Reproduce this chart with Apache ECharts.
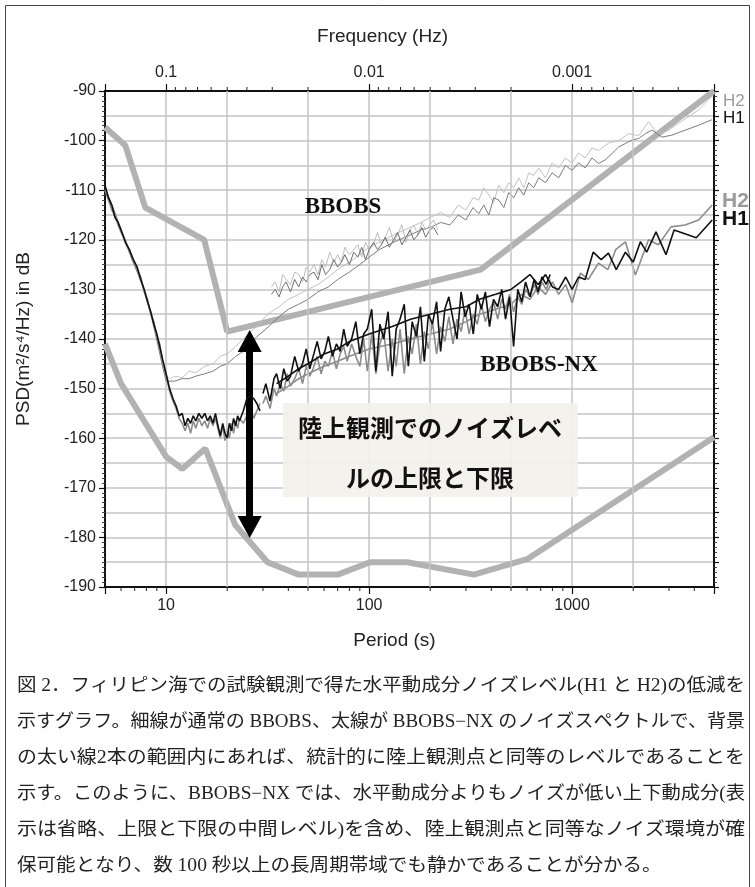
<!DOCTYPE html>
<html>
<head>
<meta charset="utf-8">
<script src="https://cdn.jsdelivr.net/npm/echarts@6/dist/echarts.min.js"></script>
<style>
  html, body { margin: 0; padding: 0; background: #fff; }
  #main { width: 755px; height: 887px; }
</style>
</head>
<body>
<div id="main"></div>
<script>
// period (s) / PSD (dB)

// land noise models (upper / lower limit)
const nhnm = [[5, -97.3], [6.3, -101], [7.9, -113.5], [15.4, -120], [20, -138.5], [354.8, -126], [5000, -90]];
const nlnm = [[5, -141], [6, -149], [10, -163.7], [12, -166.2], [15.6, -162.1], [21.9, -177.5], [31.6, -185],
  [45, -187.5], [70, -187.5], [101, -185], [154, -185], [328, -187.5], [600, -184.4], [5000, -159.8]];

// BBOBS (thin lines), long window
const bbH2Long = [[5, -110], [5.3, -112.5], [5.6, -115], [6, -118.5], [6.4, -121.5], [6.8, -123.5], [7.2, -126], [7.6, -128.5],
  [8, -131.5], [8.4, -134.5], [8.8, -138], [9.2, -141.5], [9.6, -145], [10, -147.5], [10.5, -148], [11, -147.5], [12, -147.8],
  [13, -146.5], [14, -146.8], [15.5, -145.5], [17, -145], [18.5, -143.5], [20, -143], [22, -141.5], [24, -140], [26, -138.5],
  [28, -137.5], [30, -136], [33, -134.5], [36, -133.5], [40, -132], [45, -131], [50, -130], [56, -129], [63, -127.5], [70, -126],
  [80, -124.5], [90, -123], [100, -121.5], [112, -120.5], [125, -119.5], [140, -118.5], [160, -117.5], [180, -116.5], [200, -115.5],
  [225, -114.5], [250, -115.5], [275, -113], [300, -114], [325, -111.5], [347, -112], [367, -109.5], [389, -111], [411, -112.5],
  [435, -109], [461, -110.5], [487, -108.5], [516, -109.5], [546, -107.5], [578, -109.5], [611, -106.5], [647, -107], [685, -105.5],
  [739, -107.5], [797, -104.5], [859, -105.5], [926, -103.5], [1000, -104.5], [1077, -102.5], [1161, -103.5], [1252, -101.5],
  [1350, -102], [1512, -100.5], [1695, -100], [1898, -98.6], [2126, -99], [2382, -96.2], [2667, -98.9], [2985, -97.9],
  [3343, -96.5], [3745, -95.2], [4197, -93.8], [4702, -91.8], [4950, -90.8]];
const bbH1Long = [[5, -109.5], [5.3, -112], [5.6, -114.5], [6, -118], [6.4, -121], [6.8, -124], [7.2, -126.5], [7.6, -129],
  [8, -132], [8.4, -135], [8.8, -138.5], [9.2, -142], [9.6, -145.5], [10, -148.5], [11, -148.5], [12, -148], [13, -148],
  [14, -147.5], [15.5, -147], [17, -146.5], [18.5, -145.5], [20, -145], [22, -143.5], [24, -142.5], [26, -141], [28, -139.5],
  [30, -138.5], [33, -137], [36, -135.5], [40, -134], [45, -133], [50, -132], [56, -130.5], [63, -129.5], [70, -128], [80, -126.5],
  [90, -125], [100, -123.5], [112, -122], [125, -121], [140, -120], [160, -119], [180, -118], [200, -117.5], [225, -116.5],
  [250, -117], [275, -115], [300, -116], [325, -113.5], [347, -114.7], [367, -113], [389, -115], [411, -111.5], [435, -112],
  [461, -113.5], [487, -110.5], [516, -111.5], [546, -109.5], [578, -111], [611, -108.5], [647, -109.5], [685, -107.5],
  [739, -108.5], [797, -106.5], [859, -107.5], [926, -105], [1000, -106], [1077, -104.5], [1161, -105.5], [1252, -103.5],
  [1350, -104.6], [1456, -103.9], [1573, -102.6], [1695, -101.3], [1828, -100.6], [1971, -99.9], [2126, -99.6], [2294, -98.6],
  [2474, -97.9], [2770, -99.3], [3100, -98.9], [3600, -97.9], [4197, -96.9], [4885, -95.8]];

// BBOBS, short window (noisy band)
const bbShortP = [33, 34.5, 36, 37.5, 39, 41, 43, 45, 47, 49, 51, 53.5, 56, 58.5, 61, 64, 67, 70, 73, 76, 80, 84, 88, 92, 96,
  100, 105, 110, 115, 120, 126, 132, 138, 145, 152, 159, 166, 174, 182, 190, 199, 208, 218];
const bbH2Short = [-129.5, -128.5, -130.5, -127, -128, -129, -126.5, -127, -128.5, -125.5, -126.5, -125, -127, -124, -125.5,
  -122.5, -124.5, -123, -124.5, -121.5, -123, -122, -121, -123.5, -120.5, -122, -121, -118.5, -121, -119.5, -117.5, -120.5,
  -119, -117, -120.5, -118, -117, -119, -116.5, -118, -117, -116, -118];
const bbH1Short = [-131, -130, -131.5, -129.5, -128.5, -130.5, -128, -129.5, -127.5, -128.5, -127, -126.5, -128, -125, -127,
  -126, -124, -125.5, -124.5, -123, -125, -122.5, -123.5, -121.5, -124, -122, -120.5, -122, -121, -119.5, -121.5, -120, -118.5,
  -121, -119.5, -118, -120, -119, -117.5, -119.5, -118, -117.5, -119];

// BBOBS-NX (thick lines), short periods
const nxH1Low = [[5, -109], [5.2, -111.5], [5.4, -113], [5.6, -115.5], [5.8, -116.5], [6, -118], [6.3, -120.5], [6.6, -122],
  [6.9, -124], [7.2, -125.5], [7.5, -128], [7.8, -130], [8.1, -132.5], [8.4, -134.5], [8.7, -137], [9, -139], [9.3, -141.5],
  [9.6, -144], [10, -147], [10.4, -150], [10.8, -152], [11.2, -153.5], [11.6, -155.5], [12, -155], [12.4, -157.5], [12.8, -156],
  [13.2, -157], [13.6, -155.5], [14, -156.5], [14.5, -155], [15, -156], [15.5, -155], [16, -156.5], [16.5, -155.5], [17, -157],
  [17.5, -155], [18, -157.5], [18.5, -159.5], [19, -157], [19.5, -159], [20, -160], [20.5, -157], [21, -158.5], [21.5, -156],
  [22, -157.5], [22.5, -155.5], [23, -156.5], [24, -154.5], [25, -152], [26, -151.5], [27, -152], [28, -153], [29, -154.5]];
const nxH2Low = [[5, -110], [5.2, -112], [5.4, -114], [5.6, -115], [5.8, -117], [6, -118.5], [6.3, -120], [6.6, -122.5],
  [6.9, -124.5], [7.2, -126], [7.5, -127.5], [7.8, -130.5], [8.1, -132], [8.4, -135], [8.7, -136.5], [9, -139.5], [9.3, -141],
  [9.6, -144.5], [10, -147.5], [10.4, -150.5], [10.8, -152.5], [11.2, -154], [11.6, -156], [12, -157], [12.4, -158.5],
  [12.8, -157], [13.2, -159], [13.6, -156.5], [14, -158], [14.5, -156], [15, -157.5], [15.5, -156.5], [16, -158], [16.5, -156],
  [17, -157.5], [17.5, -156], [18, -158], [18.5, -160], [19, -157.5], [19.5, -160.5], [20, -158], [20.5, -160], [21, -157],
  [21.5, -159], [22, -156.5], [22.5, -158], [23, -156], [24, -157], [25, -155.5], [26, -154], [27, -156], [28, -154.5], [29, -153]];

// BBOBS-NX, short window (noisy band)
const nxNoiseP = [30, 31, 32.5, 34, 35, 36.5, 38, 39.5, 41, 43, 45, 47, 49, 51, 53, 55.5, 58, 60.5, 63, 66, 69, 72, 75, 78,
  82, 86, 90, 94, 98, 103, 108, 113, 118, 124, 130, 136, 142, 149, 156, 163, 171, 179, 187, 196, 205, 215, 225, 236, 247, 259,
  271, 284, 297, 311, 326, 341, 357, 374, 392, 410, 430, 450, 470, 492, 515, 540, 565, 590, 620, 650, 680, 710, 745, 780];
const nxH1Noise = [-151, -149, -152.5, -148, -147, -150, -146, -148.5, -147.5, -143.5, -146.5, -145, -142, -146, -143.5,
  -140.5, -144, -142.5, -139.5, -143.5, -141, -142.5, -138, -141.5, -140, -136.5, -143, -139, -138, -134, -146.5, -137, -140,
  -134.5, -147.5, -138, -136, -133, -145.5, -136.5, -139.5, -133.5, -144.5, -135, -137, -132.5, -142.5, -134, -131.5, -136,
  -140, -130.5, -135.5, -133, -139, -131, -134, -130.5, -137.5, -132, -133.5, -130, -136, -131.5, -141.5, -130, -132.5, -128.5,
  -131.5, -128, -130.5, -127.5, -129, -127];
const nxH2Noise = [-153, -151.5, -154, -150, -151.5, -149, -150.5, -147, -149.5, -148, -146, -149, -145.5, -147.5, -146,
  -143.5, -147, -144.5, -145.5, -142.5, -146, -143, -141.5, -144.5, -141, -143.5, -145.5, -140, -146.5, -139, -147, -141, -138.5,
  -146.5, -140, -145.5, -138, -147, -139.5, -143, -137, -145, -138.5, -142, -136.5, -143, -137.5, -140.5, -135.5, -141, -136,
  -138.5, -134, -139, -135, -137, -133, -136.5, -134, -132.5, -136, -132, -134, -131, -134.5, -131.5, -133, -130, -131.5, -129,
  -131, -128.5, -130, -128];

// BBOBS-NX, long window
const nxH1Long = [[35, -149], [40, -147.5], [45, -146], [50, -145], [60, -143], [70, -142], [80, -140.5], [100, -139],
  [130, -137.5], [160, -136], [200, -135], [250, -134], [300, -133.5], [350, -132], [420, -131], [500, -130], [560, -128.5],
  [620, -127], [680, -129], [740, -127], [800, -129.5], [858, -130], [930, -127.5], [1000, -130], [1076, -127.5], [1160, -128],
  [1270, -122.5], [1390, -124], [1510, -122.7], [1650, -126], [1830, -122.5], [2000, -124.5], [2170, -120.4], [2330, -122.5],
  [2590, -118.4], [2900, -123], [3180, -118], [4090, -119.6], [4900, -116]];
const nxH2Long = [[35, -151], [40, -149.5], [45, -148], [50, -147], [60, -145.5], [70, -144.5], [80, -143.5], [100, -142],
  [130, -141], [160, -140], [200, -139], [250, -138], [300, -136.5], [350, -135], [420, -134], [500, -133], [560, -131],
  [620, -132], [680, -129.5], [740, -131], [800, -128.5], [858, -131], [930, -129], [1000, -132.7], [1100, -126.7], [1200, -128],
  [1350, -124.7], [1500, -126], [1640, -122], [1830, -120.4], [2050, -127.1], [2380, -120], [2660, -121], [3070, -117.4],
  [3600, -117], [4200, -116], [4900, -113]];

// axis decorations
const periodLabels = [10, 100, 1000];
const freqLabels = ['0.1', '0.01', '0.001'];
const extraGridPeriods = [20, 50, 200, 500, 2000];
const bottomMinor = [6, 7, 8, 9, 20, 30, 40, 50, 60, 70, 80, 90, 200, 300, 400, 500, 600, 700, 800, 900, 2000, 3000, 4000];
const topMinorFreq = [0.09, 0.08, 0.07, 0.06, 0.05, 0.04, 0.03, 0.02, 0.009, 0.008, 0.007, 0.006, 0.005, 0.004, 0.003,
  0.002, 0.0009, 0.0008, 0.0007, 0.0006, 0.0005, 0.0004, 0.0003];
const arrowPeriod = 25.8;
const arrowEnds = [-140.4, -177.9];

const caption = [
  '図 2．フィリピン海での試験観測で得た水平動成分ノイズレベル(H1 と H2)の低減を',
  '示すグラフ。細線が通常の BBOBS、太線が BBOBS−NX のノイズスペクトルで、背景',
  'の太い線2本の範囲内にあれば、統計的に陸上観測点と同等のレベルであることを',
  '示す。このように、BBOBS−NX では、水平動成分よりもノイズが低い上下動成分(表',
  '示は省略、上限と下限の中間レベル)を含め、陸上観測点と同等なノイズ環境が確',
  '保可能となり、数 100 秒以上の長周期帯域でも静かであることが分かる。'
];

const sans = "'Liberation Sans', Arial, Helvetica, sans-serif";
const capFont = "'Liberation Serif', 'Noto Sans CJK JP', serif";
const gridColor = '#c4c4c4';

function pairs(periods, values) {
  return periods.map((p, i) => [p, values[i]]);
}

function lineSeries(data, color, width, z) {
  return {
    type: 'line', data: data, symbol: 'none', silent: true, z: z,
    lineStyle: {color: color, width: width}
  };
}

function tickSeries(periods, yVal, dir) {
  return {
    type: 'custom', silent: true, z: 20, clip: false,
    data: periods.map(p => [p, yVal]),
    renderItem: function (params, api) {
      const pt = api.coord([api.value(0), api.value(1)]);
      return {
        type: 'line',
        shape: {x1: pt[0], y1: pt[1], x2: pt[0], y2: pt[1] + dir * 4},
        style: {stroke: '#222', lineWidth: 1}
      };
    }
  };
}

// caption lines are justified to the box width
const measure = document.createElement('canvas').getContext('2d');
measure.font = '18px ' + capFont;
const capWidth = 728;
const capScales = caption.map(t => capWidth / measure.measureText(t).width);
const meanScale = capScales.slice(0, 5).reduce((a, b) => a + b, 0) / 5;

const chart = echarts.init(document.getElementById('main'));

const graphics = [
  {type: 'rect', silent: true, z: -10,
    shape: {x: 5.5, y: 5.5, width: 744, height: 900},
    style: {fill: 'none', stroke: '#444', lineWidth: 1}},
  {type: 'rect', silent: true, z: 50,
    shape: {x: 283, y: 403, width: 295, height: 94},
    style: {fill: 'rgba(243,241,235,0.92)'}},
  {type: 'text', x: 430, y: 428, z: 51,
    style: {text: '陸上観測でのノイズレベ', fontSize: 24, fontWeight: 'bold', fontFamily: "'Noto Sans CJK JP'",
      fill: '#111', align: 'center', verticalAlign: 'middle'}},
  {type: 'text', x: 430, y: 478, z: 51,
    style: {text: 'ルの上限と下限', fontSize: 24, fontWeight: 'bold', fontFamily: "'Noto Sans CJK JP'",
      fill: '#111', align: 'center', verticalAlign: 'middle'}},
  {type: 'text', x: 343, y: 207, z: 51,
    style: {text: 'BBOBS', fontSize: 23, fontWeight: 'bold', fontFamily: "'Liberation Serif', serif",
      fill: '#111', align: 'center', verticalAlign: 'middle'}},
  {type: 'text', x: 539, y: 365, z: 51,
    style: {text: 'BBOBS-NX', fontSize: 23, fontWeight: 'bold', fontFamily: "'Liberation Serif', serif",
      fill: '#111', align: 'center', verticalAlign: 'middle'}},
  {type: 'text', x: 723, y: 101, z: 51,
    style: {text: 'H2', fontSize: 17, fontFamily: sans, fill: '#9a9a9a', verticalAlign: 'middle'}},
  {type: 'text', x: 723, y: 118, z: 51,
    style: {text: 'H1', fontSize: 17, fontFamily: sans, fill: '#111', verticalAlign: 'middle'}},
  {type: 'text', x: 722, y: 201, z: 51,
    style: {text: 'H2', fontSize: 21, fontWeight: 'bold', fontFamily: sans, fill: '#9a9a9a', verticalAlign: 'middle'}},
  {type: 'text', x: 722, y: 219, z: 51,
    style: {text: 'H1', fontSize: 21, fontWeight: 'bold', fontFamily: sans, fill: '#111', verticalAlign: 'middle'}}
];

caption.forEach((t, i) => {
  graphics.push({
    type: 'text', x: 17, y: 686 + i * 36, z: 51,
    scaleX: i < 5 ? capScales[i] : meanScale,
    style: {text: t, fontSize: 18, fontFamily: capFont, fill: '#222', verticalAlign: 'middle'}
  });
});

chart.setOption({
  animation: false,
  backgroundColor: '#fff',
  grid: {left: 105, right: 41, top: 91, bottom: 300, containLabel: false, outerBoundsMode: 'none'},
  xAxis: [{
    type: 'log', min: 5, max: 5000, position: 'bottom',
    name: 'Period (s)', nameLocation: 'middle', nameGap: 44,
    nameTextStyle: {fontSize: 19, color: '#222', fontFamily: sans, padding: [0, 30, 0, 0]},
    axisLine: {show: true, onZero: false, lineStyle: {color: '#111', width: 2}},
    axisTick: {show: true, length: 7, lineStyle: {color: '#111', width: 1.2}},
    axisLabel: {
      fontSize: 16, color: '#222', fontFamily: sans, margin: 11,
      formatter: v => periodLabels.indexOf(Math.round(v)) >= 0 ? String(Math.round(v)) : ''
    },
    splitLine: {show: true, lineStyle: {color: gridColor, width: 1.5}}
  }, {
    type: 'log', min: 5, max: 5000, position: 'top',
    name: 'Frequency (Hz)', nameLocation: 'middle', nameGap: 45,
    nameTextStyle: {fontSize: 19, color: '#222', fontFamily: sans, padding: [0, 54, 0, 0]},
    axisLine: {show: true, onZero: false, lineStyle: {color: '#111', width: 2}},
    axisTick: {show: true, length: 7, lineStyle: {color: '#111', width: 1.2}},
    axisLabel: {
      fontSize: 16, color: '#222', fontFamily: sans, margin: 10,
      formatter: v => {
        const k = periodLabels.indexOf(Math.round(v));
        return k >= 0 ? freqLabels[k] : '';
      }
    },
    splitLine: {show: false}
  }],
  yAxis: [{
    type: 'value', min: -190, max: -90, interval: 10, position: 'left',
    name: 'PSD(m²/s⁴/Hz) in dB', nameLocation: 'middle', nameGap: 72, nameRotate: 90,
    nameTextStyle: {fontSize: 19, color: '#222', fontFamily: sans},
    axisLine: {show: true, onZero: false, lineStyle: {color: '#111', width: 2}},
    axisTick: {show: true, length: 6, lineStyle: {color: '#111', width: 1.2}},
    minorTick: {show: true, splitNumber: 10, length: 3, lineStyle: {color: '#444', width: 1}},
    axisLabel: {fontSize: 16, color: '#222', fontFamily: sans, margin: 9},
    splitLine: {show: false}
  }, {
    type: 'value', min: -190, max: -90, interval: 5, position: 'right',
    axisLine: {show: true, onZero: false, lineStyle: {color: '#111', width: 2}},
    axisTick: {show: true, length: 5, lineStyle: {color: '#111', width: 1.2}},
    minorTick: {show: true, splitNumber: 5, length: 3, lineStyle: {color: '#444', width: 1}},
    axisLabel: {show: false},
    splitLine: {show: true, lineStyle: {color: gridColor, width: 1.5}}
  }],
  graphic: graphics,
  series: [
    {
      type: 'line', data: [], silent: true, z: 1,
      markLine: {
        silent: true, symbol: 'none', animation: false,
        label: {show: false},
        lineStyle: {color: gridColor, width: 1.5, type: 'solid'},
        data: extraGridPeriods.map(p => ({xAxis: p}))
      }
    },
    lineSeries(nhnm, '#b2b2b2', 6, 2),
    lineSeries(nlnm, '#b2b2b2', 6, 2),
    lineSeries(bbH2Long, '#c2c2c2', 1, 3),
    lineSeries(bbH1Long, '#7c7c7c', 1, 3),
    lineSeries(pairs(bbShortP, bbH2Short), '#bdbdbd', 1, 3),
    lineSeries(pairs(bbShortP, bbH1Short), '#6e6e6e', 1, 3),
    lineSeries(nxH2Low, '#8c8c8c', 1.6, 4),
    lineSeries(nxH1Low, '#111111', 1.6, 5),
    lineSeries(pairs(nxNoiseP, nxH2Noise), '#8c8c8c', 1.6, 4),
    lineSeries(pairs(nxNoiseP, nxH1Noise), '#111111', 1.6, 5),
    lineSeries(nxH2Long, '#8c8c8c', 1.6, 4),
    lineSeries(nxH1Long, '#111111', 1.6, 5),
    {
      type: 'line', data: [], silent: true, z: 30,
      markLine: {
        silent: true, animation: false,
        symbol: ['triangle', 'triangle'], symbolSize: [24, 22],
        label: {show: false},
        lineStyle: {color: '#000', width: 7, type: 'solid'},
        itemStyle: {color: '#000'},
        data: [[{coord: [arrowPeriod, arrowEnds[0]]}, {coord: [arrowPeriod, arrowEnds[1]]}]]
      }
    },
    tickSeries(bottomMinor, -190, 1),
    tickSeries(topMinorFreq.map(f => 1 / f), -90, -1)
  ]
});
</script>
</body>
</html>
